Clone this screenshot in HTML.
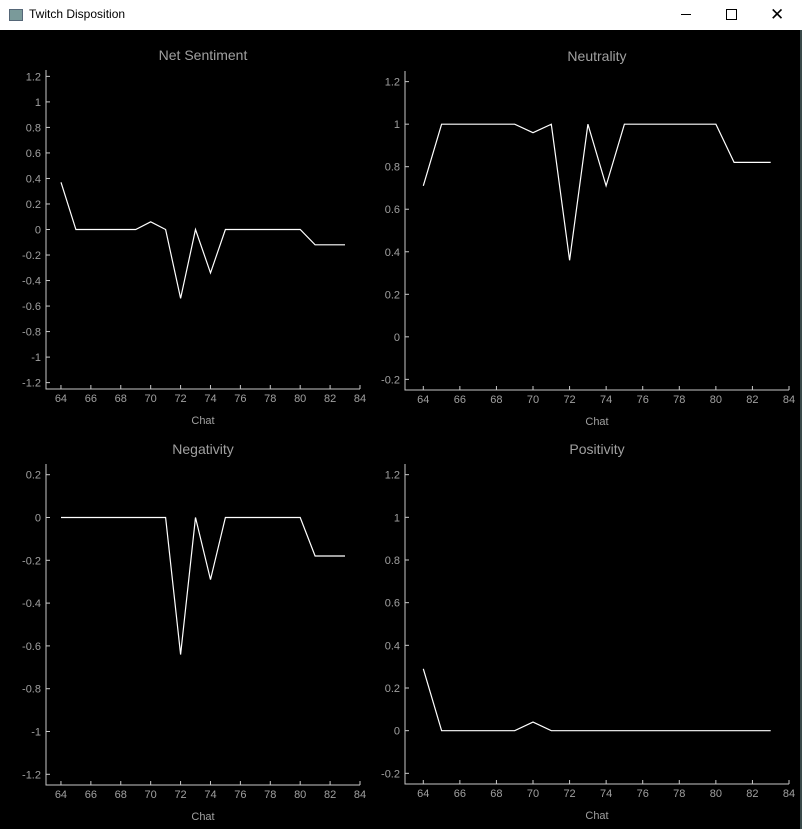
<!DOCTYPE html>
<html><head><meta charset="utf-8"><style>
body{margin:0;width:802px;height:829px;overflow:hidden;background:#000;font-family:"Liberation Sans",sans-serif}
#tb{position:absolute;left:0;top:0;width:802px;height:30px;background:#fff}
svg text{font-family:"Liberation Sans",sans-serif}
</style></head><body>
<div id="tb">
<div style="position:absolute;left:9px;top:9px;width:12px;height:10px;background:#7a9a9a;border:1px solid #567"></div>
<div style="position:absolute;left:29px;top:7px;font-size:12px;color:#000">Twitch Disposition</div>
<div style="position:absolute;left:681px;top:14px;width:10px;height:1px;background:#000"></div>
<div style="position:absolute;left:726px;top:9px;width:9px;height:9px;border:1px solid #000"></div>
<div style="position:absolute;left:770px;top:5px;font-size:17px;color:#000">✕</div>
</div>
<div style="position:absolute;left:800px;top:30px;width:2px;height:799px;background:#3a4a4a"></div>
<svg id="svg" width="802" height="829" style="position:absolute;left:0;top:0"></svg>
<script>
const xCats=[64,65,66,67,68,69,70,71,72,73,74,75,76,77,78,79,80,81,82,83];
const xTicks=[64,66,68,70,72,74,76,78,80,82,84];
const netValues=[0.37,0,0,0,0,0,0.06,0,-0.54,0,-0.34,0,0,0,0,0,0,-0.12,-0.12,-0.12];
const neutralValues=[0.71,1,1,1,1,1,0.96,1,0.36,1,0.71,1,1,1,1,1,1,0.82,0.82,0.82];
const negValues=[0,0,0,0,0,0,0,0,-0.64,0,-0.29,0,0,0,0,0,0,-0.18,-0.18,-0.18];
const posValues=[0.29,0,0,0,0,0,0.04,0,0,0,0,0,0,0,0,0,0,0,0,0];
const netTicks=[1.2,1,0.8,0.6,0.4,0.2,0,-0.2,-0.4,-0.6,-0.8,-1,-1.2];
const neutralTicks=[1.2,1,0.8,0.6,0.4,0.2,0,-0.2];
const negTicks=[0.2,0,-0.2,-0.4,-0.6,-0.8,-1,-1.2];
const posTicks=[1.2,1,0.8,0.6,0.4,0.2,0,-0.2];
const NS="http://www.w3.org/2000/svg";
const svg=document.getElementById('svg');
function mk(t,a,p){const e=document.createElementNS(NS,t);for(const k in a)e.setAttribute(k,a[k]);(p||svg).appendChild(e);return e;}
function chart(name,title,L,R,T,B,ymin,ymax,yt,vals){
  const g=mk('g',{});
  
  
  const xmin=63,xmax=84;
  const X=v=>L+(v-xmin)/(xmax-xmin)*(R-L);
  const Y=v=>B-(v-ymin)/(ymax-ymin)*(B-T);
  const cx=(L+R)/2;
  const tt=mk('text',{x:cx,y:T-10,'text-anchor':'middle','font-size':14,fill:'#a0a0a0'},g);tt.textContent=title;
  
  
  const ax=mk('path',{d:`M${L} ${T}V${B}H${R}`,stroke:'#c8c8c8','stroke-width':1,fill:'none'},g);
  
  
  yt.forEach(v=>{const y=Y(v);mk('line',{x1:L,x2:L+4,y1:y,y2:y,stroke:'#c8c8c8'},g);
    const t=mk('text',{x:L-5,y:y+4,'text-anchor':'end','font-size':11,fill:'#a0a0a0'},g);t.textContent=String(v);
    
    });
  xTicks.forEach(v=>{const x=X(v);mk('line',{x1:x,x2:x,y1:B,y2:B-4,stroke:'#c8c8c8'},g);
    const t=mk('text',{x:x,y:B+13,'text-anchor':'middle','font-size':11,fill:'#a0a0a0'},g);t.textContent=String(v);
    
    });
  const xl=mk('text',{x:cx,y:B+35,'text-anchor':'middle','font-size':11,fill:'#a0a0a0'},g);xl.textContent='Chat';
  
  
  const d=vals.map((v,i)=>(i?'L':'M')+X(xCats[i]).toFixed(1)+' '+Y(v).toFixed(1)).join('');
  const ln=mk('path',{d:d,stroke:'#fff','stroke-width':1.2,fill:'none'},g);
  
  
}
chart('net-sentiment-chart','Net Sentiment',46,360,70,389,-1.25,1.25,netTicks,netValues);
chart('neutrality-chart','Neutrality',405,789,71,390,-0.25,1.25,neutralTicks,neutralValues);
chart('negativity-chart','Negativity',46,360,464,785,-1.25,0.25,negTicks,negValues);
chart('positivity-chart','Positivity',405,789,464,784,-0.25,1.25,posTicks,posValues);
</script>
</body></html>
